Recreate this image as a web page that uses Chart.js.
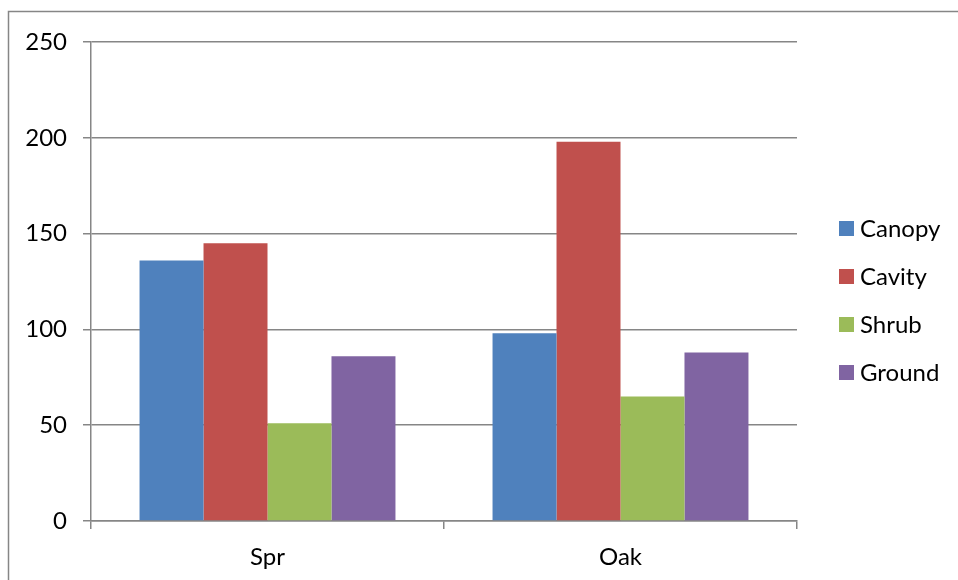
<!DOCTYPE html>
<html>
<head>
<meta charset="utf-8">
<script src="https://cdn.jsdelivr.net/npm/chart.js@4"></script>
<style>
  html, body { margin: 0; padding: 0; background: #fff; }
  #wrap { width: 958px; height: 580px; position: relative; }
</style>
</head>
<body>
<div id="wrap"><canvas id="c" width="958" height="580"></canvas></div>
<script>
const categories = ["Spr", "Oak"];
const seriesNames = ["Canopy", "Cavity", "Shrub", "Ground"];
const canopy = [136, 98];
const cavity = [145, 198];
const shrub = [51, 65];
const ground = [86, 88];
const yTicks = [0, 50, 100, 150, 200, 250];

const colors = ["#4F81BD", "#C0504D", "#9BBB59", "#8064A2"];
const seriesValues = [canopy, cavity, shrub, ground];
const FONT = "Lato, 'Open Sans', sans-serif";
const GRID = "#868686";

const frame = {
  id: "frame",
  beforeDraw(chart) {
    const ctx = chart.ctx;
    ctx.save();
    ctx.fillStyle = "#fff";
    ctx.fillRect(0, 0, chart.width, chart.height);
    ctx.strokeStyle = GRID;
    ctx.lineWidth = 1.5;
    ctx.beginPath();
    ctx.moveTo(8.5, chart.height + 2);
    ctx.lineTo(8.5, 11.5);
    ctx.lineTo(chart.width + 2, 11.5);
    ctx.stroke();
    ctx.restore();
  }
};

const sideLegend = {
  id: "sideLegend",
  afterDraw(chart) {
    const ctx = chart.ctx;
    ctx.save();
    ctx.font = "24px " + FONT;
    ctx.textBaseline = "middle";
    ctx.textAlign = "left";
    chart.data.datasets.forEach((ds, i) => {
      const cy = 228 + i * 48;
      ctx.fillStyle = ds.backgroundColor;
      ctx.fillRect(839, cy - 7, 15, 15);
      ctx.fillStyle = "#000";
      ctx.fillText(ds.label, 860, cy + 1);
    });
    ctx.restore();
  }
};

new Chart(document.getElementById("c"), {
  type: "bar",
  data: {
    labels: categories,
    datasets: seriesNames.map((n, i) => ({
      label: n,
      data: seriesValues[i],
      backgroundColor: colors[i],
      borderWidth: 0,
      categoryPercentage: 0.725,
      barPercentage: 1.0
    }))
  },
  options: {
    responsive: false,
    animation: false,
    layout: { padding: { left: 0, top: 42, right: 161, bottom: 0 } },
    plugins: { legend: { display: false }, tooltip: { enabled: false } },
    scales: {
      x: {
        afterFit(s) { s.height = 59; },
        grid: { offset: true, drawOnChartArea: false, color: GRID, tickLength: 8, lineWidth: 1.5 },
        border: { display: true, color: GRID, width: 1.5 },
        ticks: { color: "#000", font: { family: FONT, size: 24 }, padding: 14 }
      },
      y: {
        min: 0, max: 250,
        afterFit(s) { s.width = 91; },
        afterBuildTicks(s) { s.ticks = yTicks.map(v => ({ value: v })); },
        grid: { color: GRID, tickLength: 8, lineWidth: 1.5 },
        border: { display: true, color: GRID, width: 1.5 },
        ticks: { color: "#000", font: { family: FONT, size: 24 }, padding: 16 }
      }
    }
  },
  plugins: [frame, sideLegend]
});
</script>
</body>
</html>
